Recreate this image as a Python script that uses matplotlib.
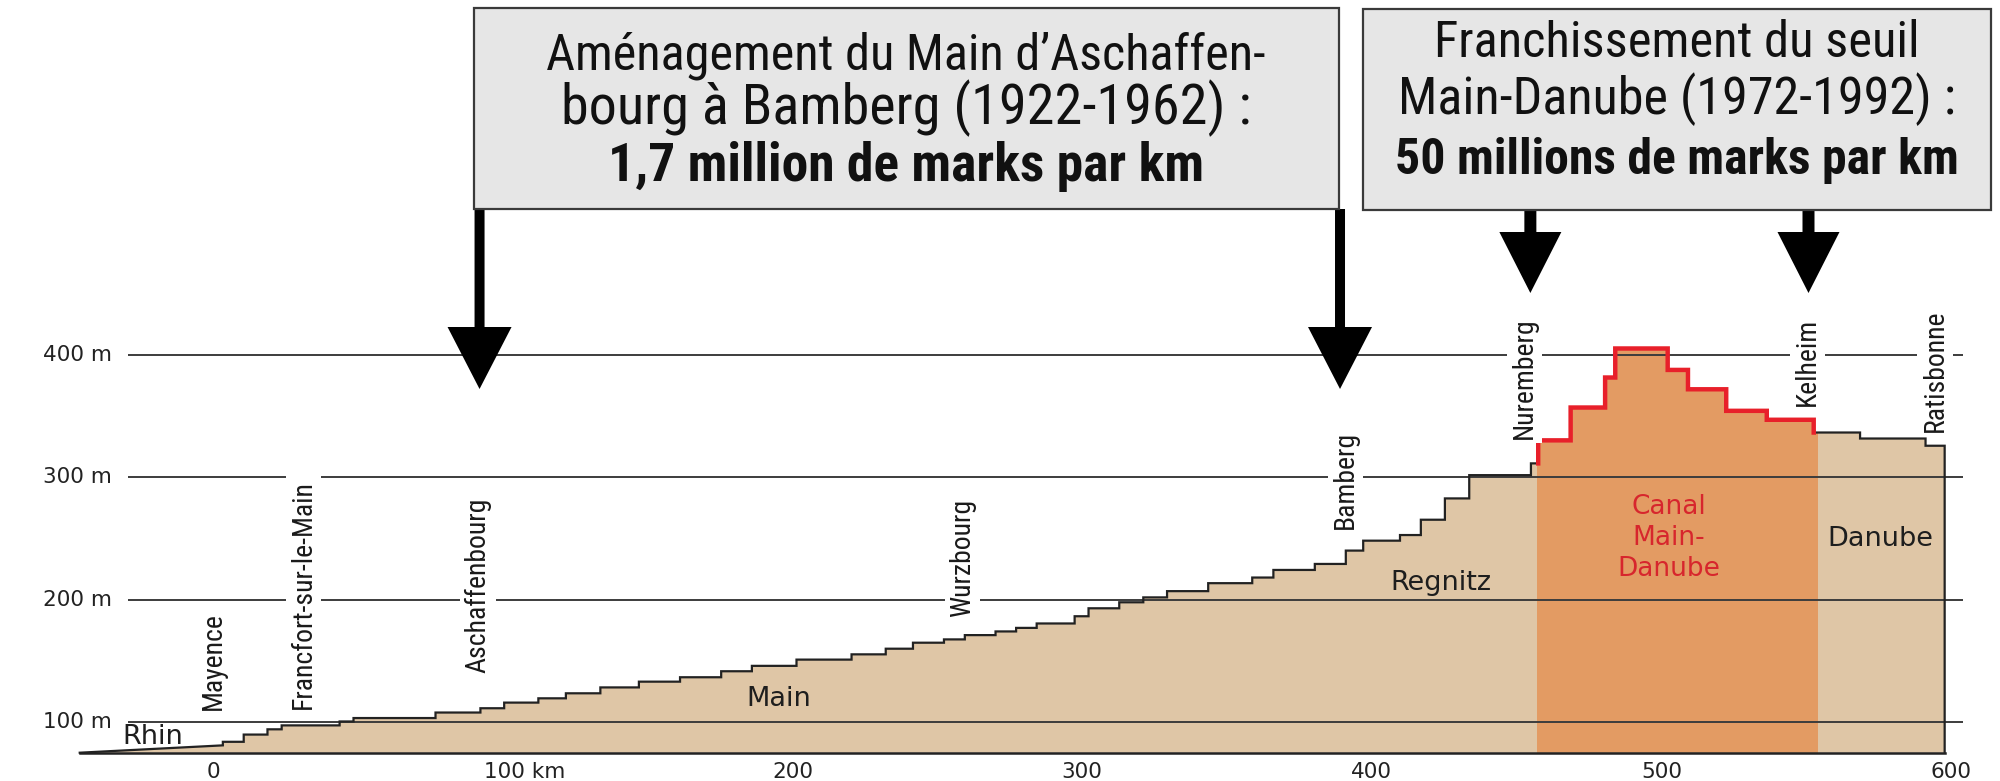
import matplotlib
matplotlib.use('Agg')
import matplotlib.pyplot as plt
from matplotlib import font_manager
from matplotlib.patches import Rectangle, Polygon

# profil en long Rhin - Main - Regnitz - canal - Danube (km, m)
rhin_km = [-46.0, 3.4]
rhin_m = [75.0, 81.0]
step_km = [3.4, 10.6, 18.8, 23.7, 43.7, 48.5, 76.8, 92.3, 100.5, 112.3, 121.8,
           133.7, 147.0, 161.2, 175.4, 186.0, 201.4, 220.4, 232.2, 241.6, 252.3,
           259.5, 270.1, 277.2, 284.3, 297.4, 302.2, 312.8, 321.1, 329.3, 343.5,
           358.7, 366.0, 380.3, 391.0, 397.0, 409.7, 416.9, 425.2, 433.6, 454.9,
           457.4, 468.6, 480.5, 484.0, 502.1, 509.1, 522.3, 536.3, 552.5, 568.5,
           591.1, 597.7]
step_m = [83.9, 89.8, 94.1, 97.3, 100.5, 103.3, 107.8, 111.3, 115.9, 119.4,
          123.5, 128.3, 133.0, 136.6, 141.5, 145.9, 151.0, 155.3, 159.9, 164.8,
          167.5, 171.0, 174.0, 176.9, 180.5, 186.4, 192.9, 197.8, 201.8, 206.9,
          213.4, 218.0, 224.2, 229.1, 240.0, 248.1, 252.7, 265.2, 282.6, 301.6,
          311.2, 330.0, 356.8, 381.3, 405.0, 387.5, 371.7, 354.1, 346.8, 336.4,
          331.5, 325.6]
base_m = 75.0
canal_km = [457.1, 554.1]

grid_m = [100, 200, 300, 400]
grid_labels = ['100 m', '200 m', '300 m', '400 m']
xtick_km = [0, 100, 200, 300, 400, 500, 600]
xtick_labels = ['0', '100 km', '200', '300', '400', '500', '600']

towns = ['Mayence', 'Francfort-sur-le-Main', 'Aschaffenbourg', 'Wurzbourg',
         'Bamberg', 'Nuremberg', 'Kelheim', 'Ratisbonne']
town_km = [0.0, 31.3, 91.5, 258.8, 391.0, 452.6, 550.3, 594.4]
town_m = [109.5, 110.8, 139.9, 185.6, 257.6, 331.5, 358.2, 337.2]

rivers = ['Rhin', 'Main', 'Regnitz', 'Danube']
river_km = [-20.7, 195.2, 423.7, 575.6]
river_m = [87.8, 118.8, 213.6, 249.5]
canal_label = 'Canal\nMain-\nDanube'
canal_label_pos = (502.5, 250.0)

arrow_km = [92.0, 389.0, 454.7, 550.7]

box1_lines = ['Aménagement du Main d’Aschaffen-', 'bourg à Bamberg (1922-1962) :',
              '1,7 million de marks par km']
box2_lines = ['Franchissement du seuil', 'Main-Danube (1972-1992) :',
              '50 millions de marks par km']

TAN = '#dfc6a6'
ORANGE = '#e39b63'
RED = '#e8202a'
RED_TXT = '#d7262d'

names = {f.name for f in font_manager.fontManager.ttflist}
narrow = None
for cand in ['Liberation Sans Narrow', 'Roboto Condensed', 'Open Sans Condensed',
             'Noto Sans Condensed', 'DejaVu Sans Condensed']:
    if cand in names:
        narrow = [cand, 'DejaVu Sans']
        break
if narrow:
    town_size = 20
else:
    narrow = ['Liberation Sans', 'DejaVu Sans']
    town_size = 17.5

W, H = 2000, 781
fig = plt.figure(figsize=(W / 100, H / 100), dpi=100)
ax = fig.add_axes([0, 0, 1, 1])
x0, x1 = -73.52, 616.8
y0, y1 = 51.9, 689.5
ax.set_xlim(x0, x1)
ax.set_ylim(y0, y1)
ax.axis('off')

# contour du profil
xs = list(rhin_km)
ys = list(rhin_m)
for i, lvl in enumerate(step_m):
    xs += [step_km[i], step_km[i + 1]]
    ys += [lvl, lvl]
xs.append(step_km[-1])
ys.append(base_m)

ax.fill(xs + [rhin_km[0]], ys + [base_m], color=TAN, lw=0, zorder=1)
orange = ax.fill(xs + [rhin_km[0]], ys + [base_m], color=ORANGE, lw=0, zorder=1.5)[0]
orange.set_clip_path(Rectangle((canal_km[0], 0), canal_km[1] - canal_km[0], 1000,
                               transform=ax.transData))

ax.hlines(grid_m, -29.3, 604, color='#3c3c3c', lw=1.4, zorder=2)

ax.plot(xs, ys, color='#222222', lw=1.6, zorder=3, solid_joinstyle='miter')
ax.plot([rhin_km[0], step_km[-1]], [base_m, base_m], color='#222222', lw=1.8, zorder=3)
red = ax.plot(xs, ys, color=RED, lw=3.2, zorder=3.5, solid_joinstyle='miter')[0]
red.set_clip_path(Rectangle((canal_km[0] - 0.4, 305), canal_km[1] - canal_km[0] - 0.4, 1000,
                            transform=ax.transData))

# graduations
for m, lab in zip(grid_m, grid_labels):
    ax.text(-34.9, m, lab, ha='right', va='center', fontsize=15.5,
            family='DejaVu Sans', color='#222222')
for km, lab in zip(xtick_km, xtick_labels):
    dx = 16 if 'km' in lab else 0
    ax.annotate(lab, (km, 59.3), xytext=(dx, 0), textcoords='offset points',
                ha='center', va='center', fontsize=15.5, family='DejaVu Sans',
                color='#222222')

# villes
for name, km, m in zip(towns, town_km, town_m):
    ax.text(km, m, name, rotation=90, ha='center', va='bottom', fontsize=town_size,
            family=narrow, color='#1a1a1a', zorder=4,
            bbox=dict(boxstyle='square,pad=0.15', fc='white', ec='none'))

# cours d'eau
for name, km, m in zip(rivers, river_km, river_m):
    ax.text(km, m, name, ha='center', va='center', fontsize=19.5,
            family='DejaVu Sans', color='#1e1e1e', zorder=4)
ax.text(canal_label_pos[0], canal_label_pos[1], canal_label, ha='center', va='center',
        fontsize=19, family='DejaVu Sans', color=RED_TXT, linespacing=1.25, zorder=4)


# cartouches
def fx(km):
    return (km - x0) / (x1 - x0)


def fy(py):
    return 1 - py / H


boxes = [(474, 1339, 8, 209), (1363, 1991, 9, 210)]
for bx0, bx1, by0, by1 in boxes:
    fig.patches.append(Rectangle((bx0 / W, fy(by1)), (bx1 - bx0) / W, (by1 - by0) / H,
                                 transform=fig.transFigure, fc='#e6e6e6',
                                 ec='#3a3a3a', lw=1.6, zorder=5))

# fleches
arrow_geo = [(209, 327, 389, 5, 32), (209, 327, 389, 5, 32),
             (210, 232, 293, 6, 31), (210, 232, 293, 6, 31)]
for km, (top, neck, tip, hw, hh) in zip(arrow_km, arrow_geo):
    cx = fx(km) * W
    pts = [(cx - hw, top), (cx + hw, top), (cx + hw, neck), (cx + hh, neck),
           (cx, tip), (cx - hh, neck), (cx - hw, neck)]
    fig.patches.append(Polygon([(p[0] / W, fy(p[1])) for p in pts], closed=True,
                               transform=fig.transFigure, fc='black', ec='none',
                               zorder=4))

renderer = fig.canvas.get_renderer()


def fit_text(cx, base, s, width, weight='normal'):
    t = fig.text(cx / W, fy(base), s, ha='center', va='baseline', fontsize=30,
                 family=narrow, weight=weight, color='#111111', zorder=6)
    w = t.get_window_extent(renderer).width
    t.set_fontsize(30 * width / w)
    return t


box1_base = [70, 124, 181]
box1_width = [720, 690, 595]
box2_base = [57, 114, 174]
box2_width = [485, 558, 565]
for i, s in enumerate(box1_lines):
    fit_text(906, box1_base[i], s, box1_width[i], 'bold' if i == 2 else 'normal')
for i, s in enumerate(box2_lines):
    fit_text(1677, box2_base[i], s, box2_width[i], 'bold' if i == 2 else 'normal')

fig.savefig('out.png', dpi=100)
